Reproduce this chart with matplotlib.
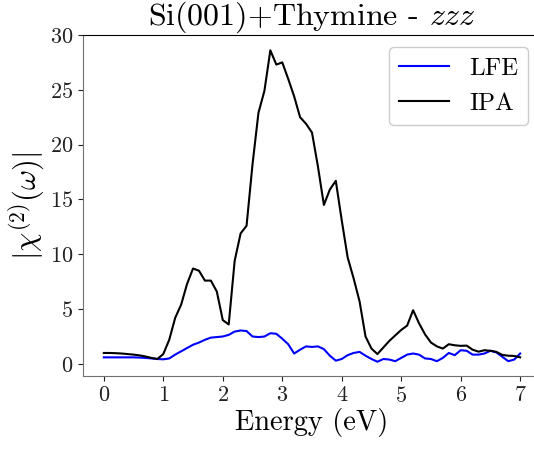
import numpy as np
import matplotlib
matplotlib.use("Agg")
import matplotlib.pyplot as plt

# ── Data: |chi^(2)| spectra, sampled every 0.1 eV ────────────────────────────

energy = np.round(np.arange(0.0, 7.01, 0.1), 1)

lfe = [0.60, 0.60, 0.60, 0.60, 0.60, 0.60, 0.58, 0.55, 0.50, 0.45,
       0.42, 0.50, 0.85, 1.15, 1.45, 1.75, 1.95, 2.20, 2.40, 2.45,
       2.50, 2.65, 2.95, 3.05, 3.00, 2.50, 2.45, 2.50, 2.80, 2.75,
       2.30, 1.80, 0.95, 1.30, 1.60, 1.55, 1.60, 1.35, 0.75, 0.30,
       0.45, 0.80, 1.00, 1.10, 0.75, 0.45, 0.20, 0.45, 0.40, 0.25,
       0.55, 0.85, 0.95, 0.85, 0.50, 0.45, 0.25, 0.55, 1.00, 0.80,
       1.25, 1.20, 0.85, 0.85, 0.95, 1.20, 1.05, 0.65, 0.25, 0.40,
       0.95]

ipa = [1.00, 1.00, 0.98, 0.95, 0.90, 0.85, 0.78, 0.68, 0.55, 0.45,
       0.90, 2.20, 4.20, 5.40, 7.30, 8.70, 8.50, 7.60, 7.60, 6.60,
       4.00, 3.60, 9.40, 11.9, 12.6, 18.2, 22.9, 24.9, 28.6, 27.3,
       27.5, 26.0, 24.4, 22.5, 21.9, 21.1, 18.0, 14.5, 15.9, 16.7,
       13.1, 9.70, 7.80, 5.70, 2.50, 1.40, 0.90, 1.50, 2.10, 2.60,
       3.10, 3.50, 4.90, 3.70, 2.70, 1.95, 1.60, 1.40, 1.80, 1.70,
       1.65, 1.67, 1.30, 1.12, 1.25, 1.20, 1.10, 0.82, 0.75, 0.73,
       0.60]

xticks = [0, 1, 2, 3, 4, 5, 6, 7]
yticks = [0, 5, 10, 15, 20, 25, 30]

# ── Style: Computer Modern look without LaTeX ────────────────────────────────

plt.rcParams["font.family"] = "serif"
plt.rcParams["font.serif"] = ["cmr10"]
plt.rcParams["mathtext.fontset"] = "cm"
plt.rcParams["axes.unicode_minus"] = False
plt.rcParams["axes.formatter.use_mathtext"] = True

fig = plt.figure(figsize=(5.34, 4.49), dpi=100)
ax = fig.add_axes([0.1554, 0.1626, 0.8577, 0.7595])

ax.plot(energy, lfe, color="blue", lw=1.5, label="LFE")
ax.plot(energy, ipa, color="black", lw=1.5, label="IPA")

ax.set_xlim(-0.35, 7.35)
ax.set_ylim(-1.1, 29.95)
ax.set_xticks(xticks)
ax.set_yticks(yticks)
ax.tick_params(labelsize=16, colors="#222222")

for side in ("left", "bottom"):
    ax.spines[side].set_color("#707070")
ax.spines["top"].set_color("black")

ax.set_xlabel("Energy (eV)", fontsize=20.5, labelpad=2)
ax.set_ylabel(r"$|\chi^{(2)}(\omega)|$", fontsize=22, labelpad=2)
ax.set_title(r"Si(001)+Thymine - $zzz$", fontsize=23, pad=1)

ax.legend(loc="upper right", fontsize=18, framealpha=1,
          borderaxespad=0.5, handlelength=2.0)

fig.savefig("out.png", dpi=100)
